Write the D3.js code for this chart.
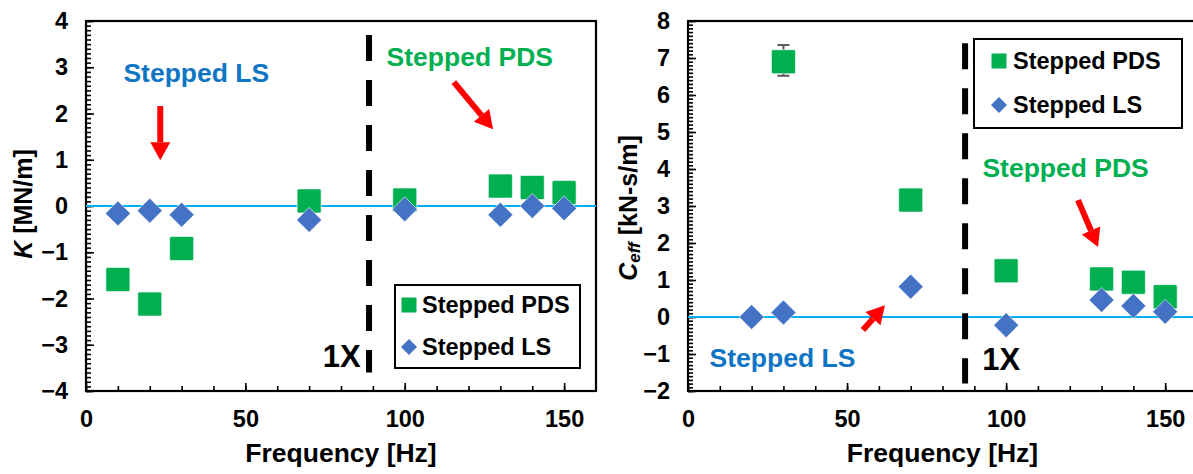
<!DOCTYPE html>
<html>
<head>
<meta charset="utf-8">
<script src="https://cdn.jsdelivr.net/npm/d3@7"></script>
<style>
  html, body { margin: 0; padding: 0; background: #fff; }
  svg text { font-family: "Liberation Sans", Arial, sans-serif; font-weight: bold; }
</style>
</head>
<body>
<svg id="chart" width="1193" height="474"></svg>
<script>
// ---- Stiffness K [MN/m] vs frequency ----
const kFreq = [10, 20, 30, 70, 100, 130, 140, 150];
const kPDS  = [-1.59, -2.12, -0.92, 0.11, 0.13, 0.43, 0.40, 0.29];
const kLS   = [-0.16, -0.10, -0.19, -0.30, -0.07, -0.19, 0.00, -0.05];

// ---- Effective damping Ceff [kN-s/m] vs frequency ----
const cFreqPDS = [30, 70, 100, 130, 140, 150];
const cPDS     = [6.90, 3.16, 1.25, 1.03, 0.94, 0.55];
const cFreqLS  = [20, 30, 70, 100, 130, 140, 150];
const cLS      = [0.00, 0.12, 0.82, -0.22, 0.46, 0.30, 0.14];
// error bar on the 30 Hz PDS damping point
const cErrFreq = [30];
const cErrLow  = [6.52];
const cErrHigh = [7.35];

// axis ticks
const xTicks  = [0, 50, 100, 150];
const kTicks  = [-4, -3, -2, -1, 0, 1, 2, 3, 4];
const cTicks  = [-2, -1, 0, 1, 2, 3, 4, 5, 6, 7, 8];

// synchronous speed marker (1X)
const kOneX = { f: 88.8, lo: -3.6, hi: 3.7 };
const cOneX = { f: 87.1, lo: -1.8, hi: 7.4 };

const GREEN = "#00B050", BLUE = "#4472C4", CYAN = "#00B0F0",
      RED = "#FF0000", LABEL_BLUE = "#0E75C4";

const svg = d3.select("#chart");

function diamondPath(r) {
  return `M0,${-r}L${r},0L0,${r}L${-r},0Z`;
}

function arrow(g, x1, y1, x2, y2, headLen, headW, shaftW) {
  const ang = Math.atan2(y2 - y1, x2 - x1);
  const bx = x2 - headLen * Math.cos(ang), by = y2 - headLen * Math.sin(ang);
  g.append("line").attr("x1", x1).attr("y1", y1).attr("x2", bx).attr("y2", by)
    .attr("stroke", RED).attr("stroke-width", shaftW);
  const px = -Math.sin(ang) * headW / 2, py = Math.cos(ang) * headW / 2;
  g.append("path")
    .attr("d", `M${x2},${y2}L${bx + px},${by + py}L${bx - px},${by - py}Z`)
    .attr("fill", RED);
}

function panel(cfg) {
  const g = svg.append("g");
  const x = d3.scaleLinear().domain([0, 160]).range([cfg.left, cfg.right]);
  const y = d3.scaleLinear().domain(cfg.yDomain).range([cfg.bottom, cfg.top]);

  // minor ticks
  const yMinor = d3.range(cfg.yDomain[0], cfg.yDomain[1] + 1e-9, 0.1).map(v => +v.toFixed(2));
  g.append("g").attr("transform", `translate(${cfg.left},0)`)
    .call(d3.axisLeft(y).tickValues(yMinor).tickSize(-5).tickFormat(""))
    .call(a => a.select(".domain").remove())
    .selectAll("line").attr("stroke", "#000").attr("stroke-width", 1.6);
  g.append("g").attr("transform", `translate(0,${cfg.bottom})`)
    .call(d3.axisBottom(x).tickValues(d3.range(0, 160, 10)).tickSize(-5).tickFormat(""))
    .call(a => a.select(".domain").remove())
    .selectAll("line").attr("stroke", "#000").attr("stroke-width", 1.6);

  // major ticks with labels
  const ya = g.append("g").attr("transform", `translate(${cfg.left},0)`)
    .call(d3.axisLeft(y).tickValues(cfg.yTicks).tickSize(-8).tickPadding(18).tickFormat(d3.format("d")));
  ya.select(".domain").remove();
  ya.selectAll("line").attr("stroke", "#000").attr("stroke-width", 1.6);
  ya.selectAll("text").attr("font-size", 23.5).attr("fill", "#000")
    .style("font-family", '"Liberation Sans", Arial, sans-serif').style("font-weight", "bold");

  const xa = g.append("g").attr("transform", `translate(0,${cfg.bottom})`)
    .call(d3.axisBottom(x).tickValues(xTicks).tickSize(-8).tickPadding(19));
  xa.select(".domain").remove();
  xa.selectAll("line").attr("stroke", "#000").attr("stroke-width", 1.6);
  xa.selectAll("text").attr("font-size", 23.5).attr("fill", "#000")
    .style("font-family", '"Liberation Sans", Arial, sans-serif').style("font-weight", "bold");

  // plot frame
  g.append("rect").attr("x", cfg.left).attr("y", cfg.top)
    .attr("width", cfg.right - cfg.left).attr("height", cfg.bottom - cfg.top)
    .attr("fill", "none").attr("stroke", "#000").attr("stroke-width", 2.2);

  // zero line
  g.append("line").attr("x1", x(0)).attr("x2", x(160)).attr("y1", y(0)).attr("y2", y(0))
    .attr("stroke", CYAN).attr("stroke-width", 2);

  // 1X marker
  g.append("line").attr("x1", x(cfg.oneX.f)).attr("x2", x(cfg.oneX.f))
    .attr("y1", y(cfg.oneX.hi)).attr("y2", y(cfg.oneX.lo))
    .attr("stroke", "#000").attr("stroke-width", 6).attr("stroke-dasharray", "26 19");

  // error bars
  if (cfg.err) {
    cfg.err.f.forEach((f, i) => {
      const eg = g.append("g").attr("stroke", "#595959").attr("stroke-width", 2);
      eg.append("line").attr("x1", x(f)).attr("x2", x(f)).attr("y1", y(cfg.err.lo[i])).attr("y2", y(cfg.err.hi[i]));
      [cfg.err.lo[i], cfg.err.hi[i]].forEach(v =>
        eg.append("line").attr("x1", x(f) - 6).attr("x2", x(f) + 6).attr("y1", y(v)).attr("y2", y(v)));
    });
  }

  // PDS squares
  g.append("g").selectAll("rect").data(cfg.pdsF.map((f, i) => [f, cfg.pds[i]])).join("rect")
    .attr("x", d => x(d[0]) - 12).attr("y", d => y(d[1]) - 12)
    .attr("width", 24).attr("height", 24).attr("rx", 1.5)
    .attr("fill", GREEN).attr("stroke", "#fff").attr("stroke-width", 0.6);

  // LS diamonds
  g.append("g").selectAll("path").data(cfg.lsF.map((f, i) => [f, cfg.ls[i]])).join("path")
    .attr("transform", d => `translate(${x(d[0])},${y(d[1])})`)
    .attr("d", diamondPath(12.5))
    .attr("fill", BLUE).attr("stroke", "#fff").attr("stroke-width", 0.6);

  // annotations
  cfg.notes.forEach(n => {
    g.append("text").attr("x", x(n.f)).attr("y", y(n.v)).attr("dy", "0.36em")
      .attr("text-anchor", "middle").attr("font-size", 26.5).attr("fill", n.color).text(n.text);
  });
  cfg.arrows.forEach(a => arrow(g, x(a[0]), y(a[1]), x(a[2]), y(a[3]), 18, 20, 6));

  g.append("text").attr("x", x(cfg.oneXLabel.f)).attr("y", y(cfg.oneXLabel.v))
    .attr("text-anchor", cfg.oneXLabel.anchor).attr("font-size", 31).attr("fill", "#000").text("1X");

  // legend
  const L = cfg.legend;
  const lg = g.append("g").attr("transform", `translate(${L.x},${L.y})`);
  lg.append("rect").attr("width", L.w).attr("height", L.h)
    .attr("fill", "#fff").attr("stroke", "#000").attr("stroke-width", 2);
  lg.append("rect").attr("x", L.mx - 7.5).attr("y", L.r1 - 7.5).attr("width", 15).attr("height", 15).attr("fill", GREEN);
  lg.append("path").attr("transform", `translate(${L.mx},${L.r2})`).attr("d", diamondPath(8)).attr("fill", BLUE);
  lg.append("text").attr("x", L.tx).attr("y", L.r1).attr("dy", "0.36em").attr("font-size", 23.5).text("Stepped PDS");
  lg.append("text").attr("x", L.tx).attr("y", L.r2).attr("dy", "0.36em").attr("font-size", 23.5).text("Stepped LS");

  // axis titles
  g.append("text").attr("x", (cfg.left + Math.min(cfg.right, 1197)) / 2).attr("y", 462)
    .attr("text-anchor", "middle").attr("font-size", 26.5).text("Frequency [Hz]");

  const yt = g.append("text").attr("transform", `translate(${cfg.yTitleX},${cfg.yTitleY}) rotate(-90)`)
    .attr("text-anchor", "middle").attr("font-size", 25);
  cfg.yTitle(yt);
}

panel({
  left: 86, right: 596, top: 21, bottom: 391,
  yDomain: [-4, 4], yTicks: kTicks,
  pdsF: kFreq, pds: kPDS, lsF: kFreq, ls: kLS,
  oneX: kOneX,
  oneXLabel: { f: 86.2, v: -3.49, anchor: "end" },
  notes: [
    { f: 34.6, v: 2.88, text: "Stepped LS", color: LABEL_BLUE },
    { f: 120.4, v: 3.24, text: "Stepped PDS", color: GREEN }
  ],
  arrows: [[23.3, 2.16, 23.3, 0.99], [115.4, 2.68, 127.7, 1.66]],
  legend: { x: 395, y: 285, w: 185, h: 83, mx: 14, tx: 27, r1: 20, r2: 62 },
  yTitleX: 32, yTitleY: 204,
  yTitle: t => {
    t.append("tspan").attr("font-style", "italic").text("K");
    t.append("tspan").text(" [MN/m]");
  }
});

panel({
  left: 688, right: 1197, top: 21, bottom: 391,
  yDomain: [-2, 8], yTicks: cTicks,
  pdsF: cFreqPDS, pds: cPDS, lsF: cFreqLS, ls: cLS,
  err: { f: cErrFreq, lo: cErrLow, hi: cErrHigh },
  oneX: cOneX,
  oneXLabel: { f: 92.5, v: -1.43, anchor: "start" },
  notes: [
    { f: 118.7, v: 4.03, text: "Stepped PDS", color: GREEN },
    { f: 29.7, v: -1.08, text: "Stepped LS", color: LABEL_BLUE }
  ],
  arrows: [[122.6, 3.16, 128.9, 1.89], [55.0, -0.35, 61.9, 0.32]],
  legend: { x: 974, y: 39, w: 208, h: 89, mx: 25, tx: 39, r1: 22, r2: 66 },
  yTitleX: 637, yTitleY: 208,
  yTitle: t => {
    t.append("tspan").attr("font-style", "italic").text("C");
    t.append("tspan").attr("font-style", "italic").attr("font-size", 17).attr("dy", 3).text("eff");
    t.append("tspan").attr("dy", -3).text(" [kN-s/m]");
  }
});
</script>
</body>
</html>
